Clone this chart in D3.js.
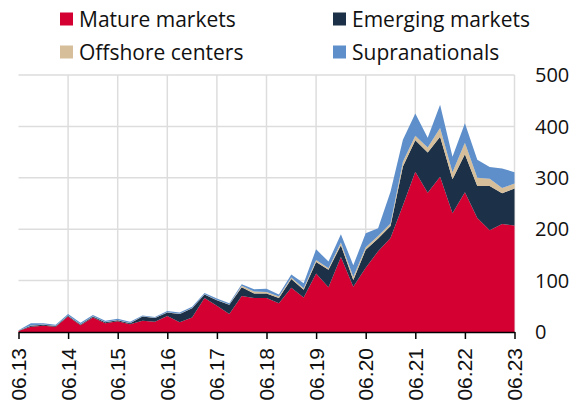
<!DOCTYPE html>
<html lang="en">
<head>
    <meta charset="UTF-8">
    <title>Issuance by market group</title>
    <script src="https://d3js.org/d3.v7.min.js"></script>
    <style>
        body { margin: 0; background: #fff; }
        .legend text { font-family: "Open Sans", sans-serif; font-size: 21px; fill: #111; }
        .y-label { font-family: "Open Sans", sans-serif; font-size: 20px; fill: #111; }
        .x-label { font-family: "Liberation Sans", Arial, sans-serif; font-size: 21px; fill: #111; }
    </style>
</head>
<body>
<div id="chart"></div>
<script>
    // Quarter-end dates (mm.yy)
    const quarters = [
        "06.13", "09.13", "12.13", "03.14", "06.14", "09.14", "12.14", "03.15",
        "06.15", "09.15", "12.15", "03.16", "06.16", "09.16", "12.16", "03.17",
        "06.17", "09.17", "12.17", "03.18", "06.18", "09.18", "12.18", "03.19",
        "06.19", "09.19", "12.19", "03.20", "06.20", "09.20", "12.20", "03.21",
        "06.21", "09.21", "12.21", "03.22", "06.22", "09.22", "12.22", "03.23",
        "06.23"
    ];

    // Values, per series
    const mature = [
        2, 10, 12, 10, 30, 13, 28, 17, 21, 15, 22, 20, 31, 19, 28, 66,
        51, 35, 70, 66, 66, 56, 86, 67, 114, 87, 146, 88, 125, 157, 183, 246,
        312, 271, 302, 231, 272, 222, 198, 210, 207
    ];
    const emerging = [
        0.5, 2, 2, 1.5, 1.5, 1.5, 2, 2, 2, 2, 8, 7, 7, 16, 18, 7,
        11, 18, 17, 9, 9, 10, 17, 15, 22, 34, 23, 13, 35, 25, 23, 76,
        61, 78, 78, 66, 74, 62, 86, 60, 72
    ];
    const offshore = [
        0.2, 0.5, 0.5, 0.5, 0.5, 0.5, 0.5, 0.5, 0.5, 0.5, 0.5, 0.5, 0.5, 0.5, 0.5, 0.5,
        0.5, 0.5, 3, 4, 3, 3, 3, 3, 4, 3, 5, 6, 5, 5, 5, 9,
        9, 10, 17, 14, 22, 16, 14, 10, 10
    ];
    const supra = [
        0.8, 4.5, 2.5, 2, 3, 3, 2.5, 2.5, 2.5, 2.5, 1.5, 1.5, 2.5, 2.5, 2.5, 2.5,
        2.5, 2.5, 3, 4, 6, 4, 6, 10, 21, 13, 16, 23, 27, 15, 62, 43,
        43, 19, 45, 30, 38, 35, 23, 38, 22
    ];

    const seriesNames = ["Mature markets", "Emerging markets", "Offshore centers", "Supranationals"];
    const seriesColors = ["#d40032", "#1c3147", "#d5be99", "#5e8fca"];
    const yTicks = [0, 100, 200, 300, 400, 500];
    const xTickLabels = ["06.13", "06.14", "06.15", "06.16", "06.17", "06.18",
                         "06.19", "06.20", "06.21", "06.22", "06.23"];

    const W = 572, H = 405;
    const plot = { left: 18.5, right: 514.5, top: 75, bottom: 332 };

    const rows = quarters.map((q, i) => ({
        q: q,
        "Mature markets": mature[i],
        "Emerging markets": emerging[i],
        "Offshore centers": offshore[i],
        "Supranationals": supra[i]
    }));

    const svg = d3.select("#chart").append("svg")
        .attr("width", W)
        .attr("height", H);

    const x = d3.scalePoint()
        .domain(quarters)
        .range([plot.left, plot.right]);

    const y = d3.scaleLinear()
        .domain([0, 500])
        .range([plot.bottom, plot.top]);

    const color = d3.scaleOrdinal().domain(seriesNames).range(seriesColors);

    // Grid
    svg.append("g").selectAll("line.h")
        .data(yTicks.slice(1))
        .enter().append("line")
        .attr("x1", plot.left).attr("x2", plot.right)
        .attr("y1", d => y(d)).attr("y2", d => y(d))
        .attr("stroke", "#dddddd").attr("stroke-width", 1.5);

    svg.append("g").selectAll("line.v")
        .data(xTickLabels.slice(1))
        .enter().append("line")
        .attr("x1", d => x(d)).attr("x2", d => x(d))
        .attr("y1", plot.top).attr("y2", plot.bottom)
        .attr("stroke", "#dddddd").attr("stroke-width", 1.5);

    // Stacked areas
    const stacked = d3.stack().keys(seriesNames)(rows);

    const area = d3.area()
        .x(d => x(d.data.q))
        .y0(d => y(d[0]))
        .y1(d => y(d[1]));

    svg.append("g").selectAll("path")
        .data(stacked)
        .enter().append("path")
        .attr("d", area)
        .attr("fill", d => color(d.key));

    // X axis
    const xAxis = svg.append("g")
        .attr("transform", `translate(0,${plot.bottom})`)
        .call(d3.axisBottom(x).tickValues(xTickLabels).tickSize(7).tickSizeOuter(0).tickFormat(""));
    xAxis.select(".domain").attr("stroke", "#000").attr("stroke-width", 1.5);
    xAxis.selectAll(".tick line").attr("stroke", "#000").attr("stroke-width", 1.5);

    svg.append("g").selectAll("text")
        .data(xTickLabels)
        .enter().append("text")
        .attr("class", "x-label")
        .attr("transform", d => `translate(${x(d) + 7.5},${plot.bottom + 16}) rotate(-90)`)
        .attr("text-anchor", "end")
        .text(d => d);

    // Y labels on the right
    svg.append("g").selectAll("text")
        .data(yTicks)
        .enter().append("text")
        .attr("class", "y-label")
        .attr("x", 535)
        .attr("y", d => y(d))
        .attr("dy", "0.36em")
        .text(d => d);

    // Legend
    const legendPos = [[60, 19], [333, 19], [60, 52], [333, 52]];
    const legend = svg.append("g").attr("class", "legend");
    seriesNames.forEach((name, i) => {
        const [lx, ly] = legendPos[i];
        legend.append("rect")
            .attr("x", lx).attr("y", ly - 6.5)
            .attr("width", 13).attr("height", 13)
            .attr("fill", color(name));
        legend.append("text")
            .attr("x", lx + 19).attr("y", ly)
            .attr("dy", "0.36em")
            .text(name);
    });
</script>
</body>
</html>
